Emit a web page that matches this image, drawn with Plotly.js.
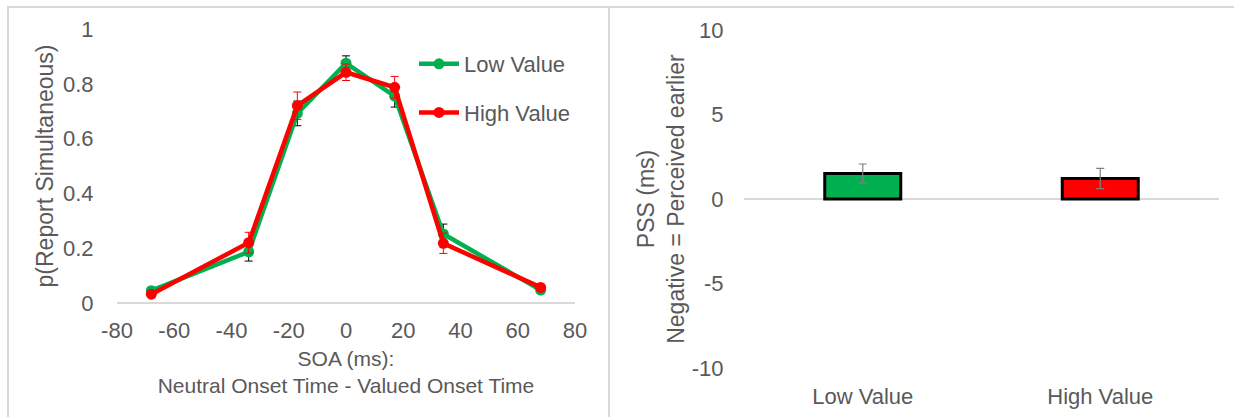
<!DOCTYPE html>
<html>
<head>
<meta charset="utf-8">
<script src="https://cdn.plot.ly/plotly-3.0.1.min.js"></script>
<style>html,body{margin:0;padding:0;background:#fff;}#chart{width:1234px;height:417px;}</style>
</head>
<body>
<div id="chart"></div>
<script>
// ---- Data ----
const soa = [-68, -34, -17, 0, 17, 34, 68];
const lowValue = [0.045, 0.187, 0.692, 0.875, 0.755, 0.252, 0.047];
const lowErr = [0.012, 0.034, 0.045, 0.027, 0.040, 0.036, 0.010];
const highValue = [0.032, 0.220, 0.720, 0.842, 0.787, 0.218, 0.057];
const highErr = [0.010, 0.038, 0.050, 0.030, 0.040, 0.037, 0.010];

const conditions = ["Low Value", "High Value"];
const pss = [1.51, 1.21];
const pssErr = [0.56, 0.60];
const barColors = ["#00b050", "#ff0000"];

const xTicks = [-80, -60, -40, -20, 0, 20, 40, 60, 80];
const yTicksLeft = [0, 0.2, 0.4, 0.6, 0.8, 1];
const yTickTextLeft = ["0", "0.2", "0.4", "0.6", "0.8", "1"];
const yTicksRight = [-10, -5, 0, 5, 10];

// ---- Style ----
const FONT = "Liberation Sans, Arial, sans-serif";
const GREY = "#595959";
const W = 1234, H = 417;
const px = v => v / W;
const py = v => 1 - v / H;

const traces = [
  {
    x: soa, y: lowValue, name: "Low Value", type: "scatter", mode: "lines+markers",
    legendgroup: "a",
    line: {color: "#00b050", width: 4.5},
    marker: {color: "#00b050", size: 11},
    error_y: {type: "data", array: lowErr, visible: true, color: "#000000", thickness: 1, width: 4},
    xaxis: "x", yaxis: "y"
  },
  {
    x: soa, y: highValue, name: "High Value", type: "scatter", mode: "lines+markers",
    legendgroup: "b",
    line: {color: "#ff0000", width: 4.5},
    marker: {color: "#ff0000", size: 11},
    error_y: {type: "data", array: highErr, visible: true, color: "#ff0000", thickness: 1, width: 4},
    xaxis: "x", yaxis: "y"
  },
  {
    x: conditions, y: pss, type: "bar", showlegend: false,
    marker: {color: barColors, line: {color: "#000000", width: 3}},
    width: 0.32,
    error_y: {type: "data", array: pssErr, visible: true, color: "#808080", thickness: 1.2, width: 4},
    xaxis: "x2", yaxis: "y2"
  }
];

const layout = {
  width: W, height: H,
  margin: {l: 0, r: 0, t: 0, b: 0},
  paper_bgcolor: "#ffffff", plot_bgcolor: "rgba(0,0,0,0)",
  font: {family: FONT, color: GREY, size: 22},
  showlegend: true,
  legend: {
    x: px(414), y: py(43), xanchor: "left", yanchor: "top",
    bgcolor: "rgba(0,0,0,0)", font: {size: 22, color: GREY},
    traceorder: "grouped", tracegroupgap: 17, itemwidth: 40
  },
  xaxis: {
    domain: [px(117), px(575)], range: [-80, 80],
    tickvals: xTicks, ticktext: xTicks.map(String),
    showgrid: false, zeroline: false,
    showline: false,
    ticks: "outside", ticklen: 8, tickcolor: "rgba(0,0,0,0)",
    tickfont: {size: 22, color: GREY},
    title: {text: "SOA (ms):<br>Neutral Onset Time - Valued Onset Time", font: {size: 21, color: GREY}, standoff: 8},
    anchor: "y", fixedrange: true
  },
  yaxis: {
    domain: [py(303), py(29)], range: [0, 1],
    tickvals: yTicksLeft, ticktext: yTickTextLeft,
    showgrid: false, zeroline: true, zerolinecolor: "#d9d9d9", zerolinewidth: 1.5,
    showline: false,
    ticks: "outside", ticklen: 18, tickcolor: "rgba(0,0,0,0)",
    tickfont: {size: 22, color: GREY},
    title: {text: "p(Report Simultaneous)", font: {size: 23, color: GREY}, standoff: 2},
    anchor: "x", fixedrange: true
  },
  xaxis2: {
    domain: [px(744), px(1219)], range: [-0.5, 1.5],
    type: "category",
    showgrid: false, zeroline: false, showline: false,
    ticks: "outside", ticklen: 9, tickcolor: "rgba(0,0,0,0)",
    tickfont: {size: 22, color: GREY},
    anchor: "y2", fixedrange: true
  },
  yaxis2: {
    domain: [py(368), py(30)], range: [-10, 10],
    tickvals: yTicksRight, ticktext: yTicksRight.map(String),
    showgrid: false, zeroline: true, zerolinecolor: "#d9d9d9", zerolinewidth: 1.5,
    showline: false,
    ticks: "outside", ticklen: 15, tickcolor: "rgba(0,0,0,0)",
    tickfont: {size: 22, color: GREY},
    title: {text: "PSS (ms)<br>Negative = Perceived earlier", font: {size: 23, color: GREY}, standoff: 0},
    anchor: "x2", fixedrange: true
  },
  shapes: [
    {type: "line", xref: "paper", yref: "paper", x0: px(7), x1: 1, y0: py(7), y1: py(7), line: {color: "#d9d9d9", width: 2}},
    {type: "line", xref: "paper", yref: "paper", x0: px(8), x1: px(8), y0: py(7), y1: 0, line: {color: "#d9d9d9", width: 2}},
    {type: "line", xref: "paper", yref: "paper", x0: px(609), x1: px(609), y0: py(7), y1: 0, line: {color: "#d9d9d9", width: 2}}
  ]
};

Plotly.newPlot("chart", traces, layout, {displayModeBar: false, staticPlot: true});
</script>
</body>
</html>
